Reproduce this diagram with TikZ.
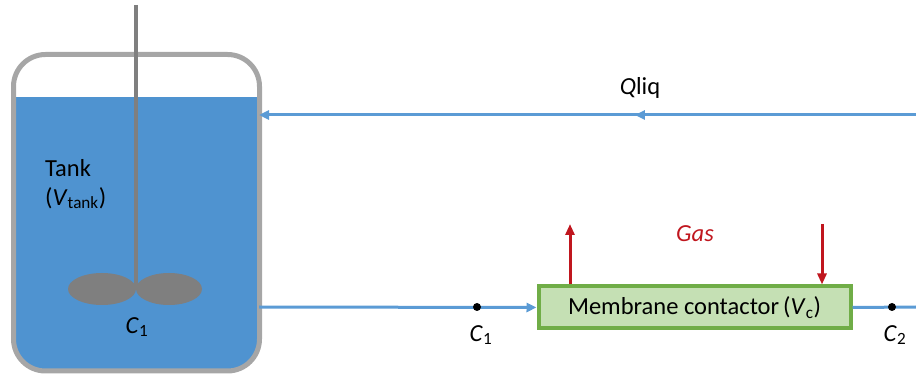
\documentclass[tikz,border=0pt]{standalone}
\usepackage{fontspec}
\setmainfont{Carlito}
\usetikzlibrary{arrows.meta,decorations.markings}
\definecolor{water}{HTML}{4F93D0}
\definecolor{pipe}{HTML}{5B9BD5}
\definecolor{wall}{HTML}{A6A6A6}
\definecolor{steel}{HTML}{7F7F7F}
\definecolor{mfill}{HTML}{C5E0B4}
\definecolor{mline}{HTML}{70AD47}
\definecolor{gasred}{HTML}{C0161E}
\tikzset{
  x=1pt, y=-1pt,
  lbl/.style={font=\fontsize{24.5}{29}\selectfont, text=black, inner sep=0pt},
  liquid/.style={draw=pipe, line width=3pt, -{Triangle[length=10pt,width=9pt]}},
  gasflow/.style={draw=gasred, line width=3pt, -{Triangle[length=11pt,width=9pt]}},
  probe/.style={circle, fill=black, inner sep=0pt, minimum size=8pt},
  contactor/.style={draw=mline, fill=mfill, line width=4pt, minimum width=312pt,
    minimum height=42pt, inner sep=0pt, font=\fontsize{24.5}{29}\selectfont},
  midarrow/.style={postaction={decorate}, decoration={markings,
    mark=at position #1 with {\arrow{Triangle[length=10pt,width=9pt]}}}}
}
\begin{document}
\begin{tikzpicture}
\useasboundingbox (0,0) rectangle (916,379);

% tank contents
\begin{scope}
  \clip[rounded corners=32pt] (13.5,54.5) rectangle (259.5,371);
  \fill[water] (0,97) rectangle (270,379);
\end{scope}
% tank wall
\draw[wall, line width=5pt, rounded corners=32pt] (13.5,54.5) rectangle (259.5,371);

% stirrer shaft and impeller blades
\draw[steel, line width=4.8pt] (136,5) -- (136,290);
\fill[steel] (102,289) ellipse [x radius=34, y radius=16];
\fill[steel] (169,289) ellipse [x radius=33, y radius=16];

\node[lbl, anchor=west] (tank) at (45,168) {Tank};
\node[lbl, anchor=west] (vtank) at (45,198) {(\textit{V}\textsubscript{tank})};
\node[lbl] (c1tank) at (137,327) {\textit{C}\textsubscript{1}};

% ports on the tank wall and the open pipe ends
\coordinate (tankin) at (259,115);
\coordinate (tankout) at (259,307);
\coordinate (retend) at (916,115);
\coordinate (feedend) at (916,307);

% membrane contactor
\node[contactor] (mc) at (694.5,307.5) {Membrane contactor\,(\textit{V}\textsubscript{c})};

% liquid loop
\draw[liquid, midarrow=0.428] (retend) -- (tankin);
\draw[liquid] (tankout) -- (mc.west);
\draw[draw=pipe, line width=3pt] (mc.east) -- (feedend);
\node[lbl] (qliq) at (640,88) {\textit{Q}liq};

% sampling points on the liquid line
\node[probe] (p1) at (477,307) {};
\node[probe] (p2) at (892,307) {};
\node[lbl] (c1) at (481,335) {\textit{C}\textsubscript{1}};
\node[lbl] (c2) at (895,335) {\textit{C}\textsubscript{2}};

% gas streams
\coordinate (gasout) at (570,224);
\coordinate (gasin) at (822,224);
\draw[gasflow] (mc.north -| gasout) -- (gasout);
\draw[gasflow] (gasin) -- (mc.north -| gasin);
\node[lbl, text=gasred] (gas) at (695,234) {\textit{Gas}};
\end{tikzpicture}
\end{document}
